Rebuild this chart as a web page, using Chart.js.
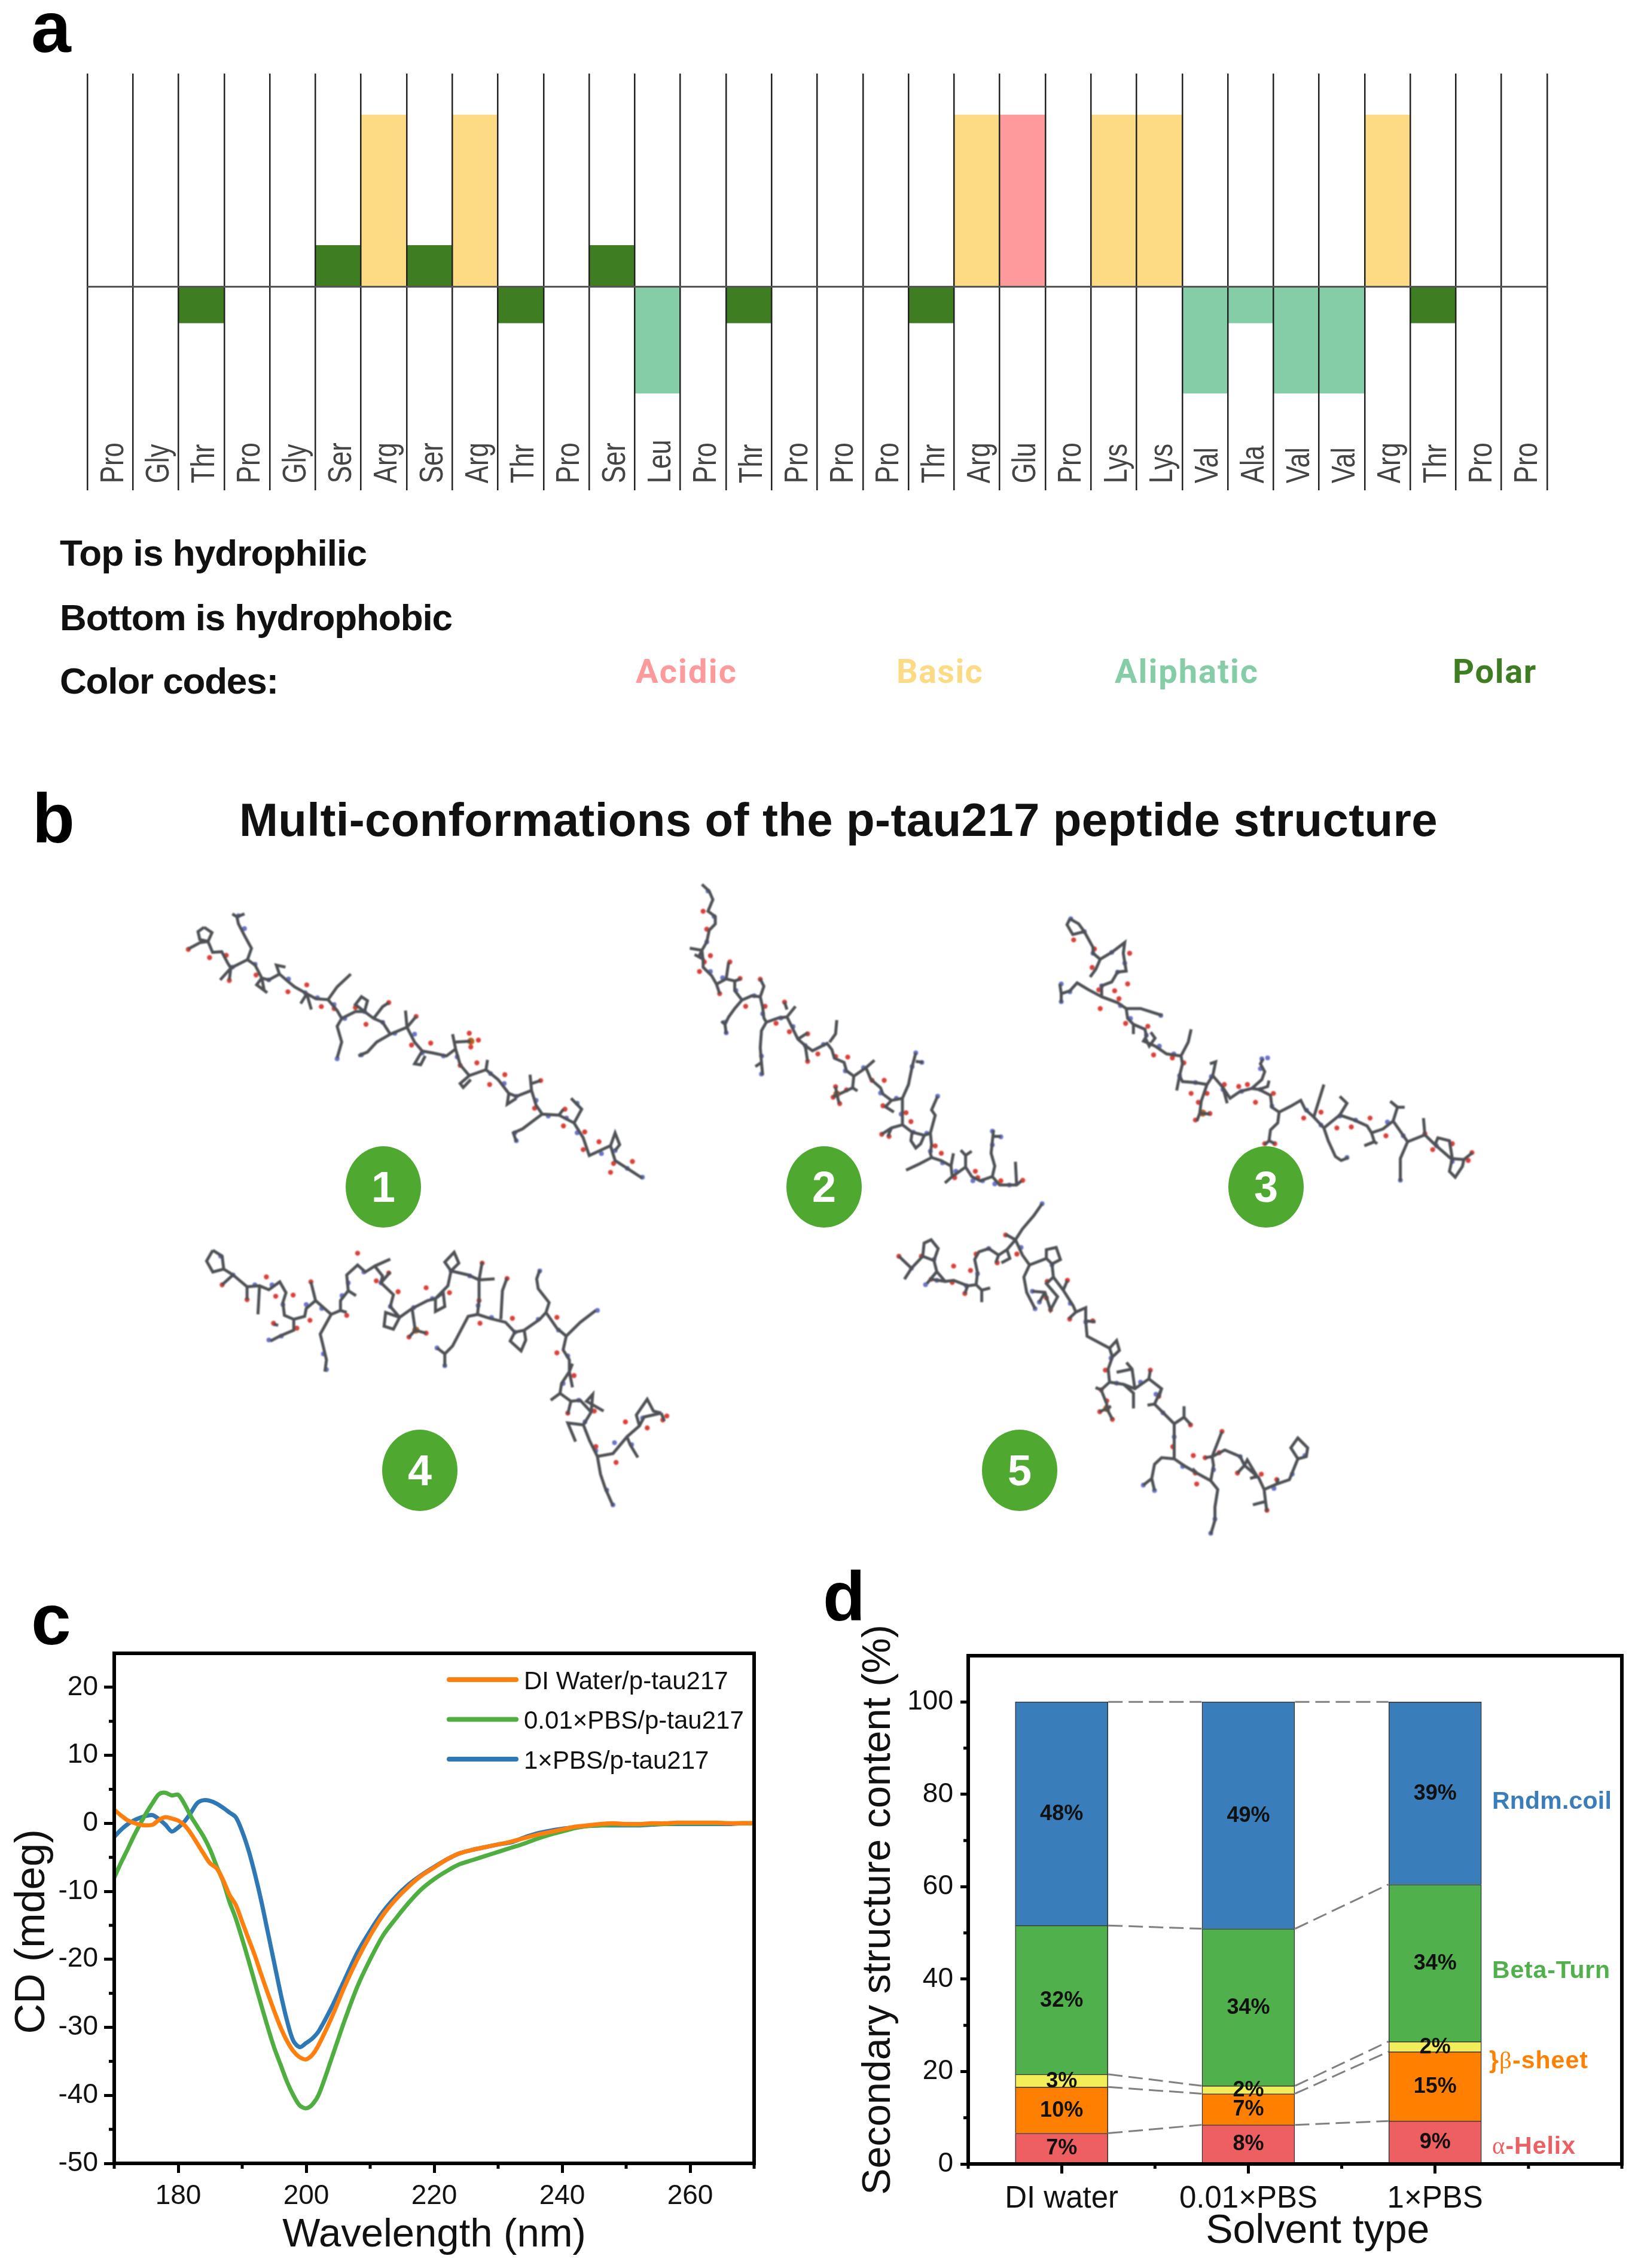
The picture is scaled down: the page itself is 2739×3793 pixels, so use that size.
<!DOCTYPE html>
<html>
<head>
<meta charset="utf-8">
<title>p-tau217 peptide</title>
<script src="https://cdn.jsdelivr.net/npm/chart.js@4"></script>
<style>
  html, body { margin: 0; background: #fff; }
  #page { position: relative; width: 2739px; height: 3793px; overflow: hidden; background: #fff; }
  canvas { position: absolute; }
  .t { position: absolute; line-height: 0; white-space: nowrap; font-family: "Liberation Sans", sans-serif; }
  .num { position: absolute; border-radius: 50%; background: #4fa82f; color: #fff; text-align: center;
         font: bold 72px "Liberation Sans", sans-serif; }
</style>
</head>
<body>
<div id="page">
  <canvas id="seqChart" width="2739" height="840" style="left:0;top:0"></canvas>
  <canvas id="molChart" width="2739" height="1200" style="left:0;top:1420px;filter:blur(0.9px)"></canvas>
  <canvas id="cdChart" width="1340" height="1153" style="left:0;top:2640px"></canvas>
  <canvas id="ssChart" width="1339" height="1153" style="left:1400px;top:2640px"></canvas>
</div>
<script>
// panel a
const residues = ["Pro","Gly","Thr","Pro","Gly","Ser","Arg","Ser","Arg","Thr","Pro","Ser","Leu","Pro","Thr","Pro",
  "Pro","Pro","Thr","Arg","Glu","Pro","Lys","Lys","Val","Ala","Val","Val","Arg","Thr","Pro","Pro"];
const hydropathy = [0,0,-0.88,0,0,1,4.16,1,4.16,-0.88,0,1,-2.58,0,-0.88,0,
  0,0,-0.88,4.16,4.16,0,4.16,4.16,-2.58,-0.88,-2.58,-2.58,4.16,-0.88,0,0];
const residueClass = { Arg:"Basic", Lys:"Basic", Glu:"Acidic", Ser:"Polar", Thr:"Polar", Leu:"Aliphatic", Val:"Aliphatic", Ala:"Aliphatic", Pro:"None", Gly:"None" };
const classColors = { Acidic:"#ff9a9c", Basic:"#fddb85", Aliphatic:"#84cda6", Polar:"#3e7d22", None:"#ffffff" };

// panel b, sticks in crop units, flat x,y lists
const mol1Sticks = [
  [72,108,52,130,58,170,85,180,98,135,72,108],
  [20,218,60,185,85,180,100,235,130,232,150,290,160,315,125,375],[160,315,155,375],
  [160,315,215,272,240,300,262,365,285,375,320,345,350,385,370,410,410,445,440,470,480,475,510,530,525,570,570,535,600,535,630,570,660,590,685,650,740,615,765,690,790,735,825,745,870,760,900,725,915,805,945,860,1000,830,1040,880,1075,950,1100,965,1150,935,1165,1010,1185,1055,1240,1060,1290,1100,1320,1175,1340,1265,1410,1215,1425,1290,1470,1335,1515,1380],
  [215,272,228,215,205,150,185,90,180,55],[165,40,180,55,205,40],
  [262,365,245,400,280,440],[262,365,270,430],[320,345,310,300,340,310],
  [410,445,390,495],[410,445,425,525],[480,475,510,410,555,345],[525,570,510,610,525,690,510,770],
  [600,535,570,500,590,460,610,480,600,535],[630,570,660,510,680,490],[685,650,640,690,610,740,580,760],
  [740,615,770,560],[740,615,735,530],[790,735,765,800,785,805,800,760],
  [900,725,890,650],[900,690,950,685],[945,860,915,900,925,920,950,880],[1000,830,1005,780],
  [1150,935,1145,855],[1150,900,1180,885],[1075,950,1070,1005,1100,975],
  [1185,1055,1150,1095,1120,1130,1090,1150,1100,1195],[1290,1100,1315,1030,1280,975],
  [1410,1215,1425,1150,1440,1210,1425,1240],[1240,1060,1255,1030]
];
const mol2Sticks = [
  [105,38,135,70,150,110,130,165,160,190,160,225,135,255,125,310,105,350,110,400,110,430,145,470,165,510,205,485,240,495,240,540,270,585,310,565,345,570,355,620,360,670,370,690,420,670,455,665,470,700,500,770,530,800,560,825,620,790,640,820,650,860,690,880,700,920,730,945,780,905,800,960,840,1000,850,1030,885,1060,930,1050,930,1120,930,1175,970,1210,1020,1225,1045,1215,1050,1270,1045,1310,1050,1330,1090,1345,1130,1370,1135,1420,1190,1375,1215,1420,1250,1440,1300,1420,1330,1460,1400,1460,1420,1440],
  [55,340,105,350,90,385],[75,370,115,395],[205,485,215,405],[165,510,178,555],[240,495,265,485],
  [270,585,240,625,215,665,200,700,205,745],[185,685,200,700],[345,570,360,520,345,485],
  [370,690,350,730,345,810,350,880,325,900],[350,880,355,940],[455,665,490,615],[455,630,445,595],
  [500,770,540,740],[530,800,540,875],[630,785,655,745,660,680],
  [730,945,725,1000,745,1015],[725,1000,670,1030],[655,995,660,1030,670,1075],[645,1045,660,1030],[780,905,815,870],
  [930,1050,955,985,970,900,985,835],[985,875,1015,880],[885,1060,860,1090,895,1115],[930,1175,885,1190,845,1220],[885,1190,870,1230],
  [970,1210,965,1250,985,1285,1005,1265,1020,1225],[1045,1215,1065,1130,1050,1105,1075,1040],[1050,1330,1000,1360,945,1390],
  [1130,1370,1140,1310],[1135,1420,1105,1450],[1190,1375,1190,1320,1170,1295],[1190,1320,1215,1300],
  [1300,1420,1310,1370,1295,1310,1305,1200],[1305,1230,1335,1230],[1400,1460,1395,1350]
];
const mol3Sticks = [
  [105,65,95,95,115,145,155,130,135,90,105,65],
  [155,130,185,210,185,240,210,270,250,235,295,185,290,240,300,330,270,335,250,385,215,405,215,460,270,490,300,520,305,570,325,600,365,625,370,660,360,685,400,710,440,750,490,760,495,800,485,860,495,890,540,895,580,905,600,860,635,920,660,975,695,940,735,925,760,930,800,960,805,1020,830,1045,870,1015,905,985,920,1030,950,1070,985,1125,1040,1060,1090,1085,1135,1115,1150,1150,1190,1130,1225,1090,1275,1195,1335,1160,1370,1210,1425,1280,1470,1285,1500,1250],
  [210,270,195,320,175,360],[215,460,170,425,130,390,105,430,75,445,70,395],[75,445,75,490],
  [300,520,350,520,425,555],[325,600,325,650],[365,665,380,710,400,670,385,640],[490,760,515,690,525,625],
  [485,860,475,935],[600,860,610,790,590,800],[580,905,560,990,555,1050,545,1090],[555,1050,590,1055],
  [735,925,770,880,780,840,765,800,775,775],[760,930,790,915,795,885],[635,920,650,1000],
  [830,1045,825,1100,800,1135,795,1190,780,1210],[795,1190,815,1205],[950,1070,985,905],
  [1040,1060,1065,1000,1040,965],[985,1125,1000,1190,1025,1270,1045,1290,1070,1275],
  [1150,1150,1160,1195,1125,1215],[1160,1195,1170,1205],[1225,1090,1240,1020,1215,990],[1240,1020,1265,1020],
  [1275,1195,1250,1280,1250,1395],[1335,1160,1330,1075],[1370,1210,1380,1175,1420,1190,1430,1280],
  [1430,1280,1420,1345,1440,1375,1465,1320,1470,1285]
];
const mol4Sticks = [
  [60,35,40,90,60,145,95,130,90,65,60,35],
  [95,130,125,160,170,220,210,215,240,235,275,195,295,250,285,300,290,365,320,385,355,370,360,330,390,290,440,360,470,340,470,290,495,240,490,160,525,110,550,145,580,115,605,165,600,200,640,260,630,320,660,375,700,330,750,290,775,280,815,215,825,140,880,160,915,185,915,290,910,360,950,380,1000,400,1030,450,1060,440,1110,385,1130,350,1165,430,1195,470,1185,540,1205,590,1205,650,1180,710,1175,760,1210,800,1240,795,1275,855,1250,920,1270,1000,1295,1080,1345,1065,1390,980,1430,925,1445,880,1500,860],
  [125,160,90,210],[170,220,170,285],[210,215,205,360],[390,290,375,195],[440,360,405,460,425,590,420,650],
  [320,385,320,440,275,470,245,495],[255,410,270,415],[470,340,490,350],[495,240,520,265],
  [580,115,630,80],[600,200,630,145],[660,375,615,350,610,420,640,435,660,375],
  [700,330,710,440,690,475],[710,440,745,455],[775,280,775,345,805,320,800,250,775,280],
  [825,140,805,95,835,45,850,100,825,140],[915,185,925,95],[915,185,965,180],
  [910,360,880,370,850,460,830,520,805,560,780,530],[805,560,805,625],[985,385,990,240,1005,175],
  [1030,450,1015,495,1050,545,1065,490,1060,440],[1130,350,1140,300,1105,230,1100,180,1110,135],
  [1195,470,1240,400,1290,340],[1205,650,1215,610],[1205,650,1215,730],[1175,760,1145,795],[1210,800,1200,865],
  [1275,855,1280,765,1260,800,1315,850],[1250,920,1200,910,1225,1005],[1295,1080,1305,1170,1320,1240,1345,1330],
  [1390,980,1400,1020,1425,1085],[1430,925,1420,870,1455,790,1475,850,1500,860],[1500,860,1510,900]
];
const mol5Sticks = [
  [50,275,95,330,135,275,175,295,185,345,215,390,245,385,295,410,325,405,330,350,320,290,335,255,370,240,405,270,435,245,465,200,490,270,515,315,575,285,595,310,600,370,635,430,670,500,680,530,715,510,715,570,720,640,800,695,810,735,795,790,800,850,850,860,890,880,940,835,985,880,960,950,1030,1040,1030,1130,1030,1200,1070,1235,1110,1265,1160,1300,1170,1230,1165,1190,1210,1160,1265,1190,1280,1230,1330,1285,1350,1340,1395,1315,1440,1295,1470,1200],
  [95,330,70,380],[135,275,140,215,165,200,190,240,175,295],[185,345,150,400],[215,390,165,380],
  [295,410,285,445],[325,405,345,430,345,485],[345,430,375,420],[405,270,395,305],[435,245,445,285,415,305],
  [465,200,430,175],[465,200,490,150,530,90,560,35],[515,315,495,370,505,440,535,515],
  [575,285,575,245,610,235,625,290,595,310],[635,430,650,385],[600,370,575,400,615,460,590,520,570,440,525,435],[550,485,570,440],
  [680,530,655,560],[715,570,750,575],[800,695,825,660,835,705,810,735],[800,850,770,885,750,875],[770,885,790,950,790,970],
  [765,985,790,970,810,1020],[790,970,805,960],[850,860,885,900,885,970],[890,880,880,790,860,760],[880,790,825,805],[940,835,945,795],
  [985,880,975,920],[960,950,935,955],[1030,1040,1065,1010,1065,960],[1065,1010,1090,1045],
  [1030,1200,985,1195,960,1225,950,1290,920,1320],[950,1290,960,1345],[1110,1265,1095,1245],
  [1160,1300,1185,1340,1175,1420,1175,1480,1160,1545],[1165,1190,1200,1075],[1165,1190,1140,1195],
  [1280,1230,1290,1205,1325,1280,1300,1290],[1280,1230,1255,1265],[1350,1340,1355,1395,1310,1410],[1355,1395,1360,1440],[1395,1315,1400,1290],
  [1470,1200,1445,1150,1470,1105,1505,1150,1500,1190,1470,1200]
];
const mol1Oxygen = [20,220,90,262,145,250,155,378,243,350,348,435,410,400,458,510,500,520,570,515,605,600,680,490,770,560,755,705,818,695,915,808,970,795,1062,855,1012,905,1180,885,1160,1025,1260,1030,1255,1115,1325,1145,1320,1235,1372,1195,1482,1295,1410,1350,1420,1305,975,680,945,645,950,715];
const mol1Nitrogen = [185,50,205,115,165,310,240,295,285,375,350,370,405,440,445,465,500,500,535,570,600,535,660,590,700,645,765,650,590,755,510,775,790,745,860,760,905,765,1015,850,1060,900,1100,965,1165,985,1205,1065,1265,1075,1300,1000,1095,1150,1100,1190,1300,1150,1380,1255,1425,1240,1465,1330,1515,1375];
const mol2Oxygen = [110,165,125,250,140,375,115,405,95,450,178,555,220,405,262,483,285,615,345,487,365,615,410,695,445,595,465,735,540,745,582,840,540,875,655,852,705,855,805,965,855,965,850,1085,945,1118,965,1160,845,1220,875,1230,1065,1275,1090,1310,1230,1395,1240,1425,1145,1425,1335,1440,1425,1438,655,995,645,1045,672,1075,700,1010];
const mol2Nitrogen = [130,70,155,190,125,310,140,450,190,480,245,540,320,565,200,690,205,740,350,850,350,935,355,650,430,670,480,710,530,800,605,795,695,920,770,905,840,1025,905,1050,925,1125,975,1210,1030,1215,1045,1300,1095,1355,1150,1395,1220,1440,1260,1440,1310,1455,1370,1460,985,835,1010,880,970,900,1075,1040,1300,1205,1335,1232,1300,1270];
const mol3Oxygen = [118,172,190,218,182,312,312,240,305,395,260,430,205,425,210,520,275,470,298,595,375,610,395,755,460,770,500,795,525,950,580,950,640,905,690,915,720,905,748,995,810,950,915,1075,975,1045,1030,1125,1080,1120,1145,1075,1200,1165,1335,1155,1362,1235,1430,1205,1498,1250,1485,1290,780,1205,815,1205,550,995,540,1085,590,1052];
const mol3Nitrogen = [108,65,155,130,185,240,250,235,295,290,270,335,215,405,75,395,75,485,105,435,280,505,420,555,315,570,370,655,415,710,465,750,485,860,540,895,595,865,635,930,700,940,765,930,770,775,790,770,765,825,805,1015,925,1035,975,1110,1040,1065,1095,1085,1205,1095,1260,1165,1375,1215,1430,1295,1065,1275,1250,1390];
const mol4Oxygen = [90,210,170,285,232,170,262,268,318,262,255,405,330,430,372,390,375,195,490,365,525,50,585,190,625,150,655,245,745,225,820,250,925,100,915,290,918,405,1005,178,1022,380,1165,375,1165,555,1220,670,1200,860,1285,850,1290,1030,1355,1110,1385,905,1455,935,1518,875,1505,895,690,475,745,455];
const mol4Nitrogen = [85,65,125,160,195,210,250,210,285,310,360,310,410,330,475,265,495,200,545,145,600,200,630,320,705,325,765,280,825,140,885,165,912,315,955,375,1030,450,1105,385,1170,440,1200,570,1185,710,1235,795,1255,905,1290,1050,1350,1010,1440,885,1110,140,1295,340,240,490,280,470,805,620,780,530,415,560,425,640,1325,1250,1345,1325,1405,1020];
const mol5Oxygen = [50,275,130,275,165,380,245,320,240,395,285,445,305,340,325,265,400,305,470,265,430,178,578,390,590,520,575,465,650,385,658,562,740,570,785,795,770,885,790,935,765,985,810,1020,945,795,975,915,1088,1045,1025,1145,1098,1185,1105,1265,1110,1315,1140,1195,1200,1075,1190,1172,1255,1265,1340,1270,1395,1295,1360,1435];
const mol5Nitrogen = [560,35,485,235,535,515,525,435,550,485,595,315,660,490,715,575,805,740,825,855,910,850,965,905,990,990,1030,1100,1060,1235,1170,1250,1265,1190,1320,1280,1385,1335,1450,1270,1495,1185,330,355,370,240,290,410,175,290,95,330,145,405,185,385,920,1320,960,1345,1175,1475,1160,1540];
const mol1Phosphorus = [950,685];
const mol2Phosphorus = [660,1030];
const mol3Phosphorus = [565,1050];
const mol4Phosphorus = [712,440];
const mol5Phosphorus = [790,970];
const molFrames = [[300,1510,1.96,3],[1130,1460,2.45,2.8],[1740,1510,2.063,3],[320,2080,1.912,3],[1480,2000,2.119,2.703]];

// panel c
const wavelengths = [170,171,172,173,174,175,176,177,178,179,180,181,182,183,184,185,186,187,188,189,190,191,192,193,194,195,196,197,198,199,200,201,202,
  204,206,208,210,212,214,216,218,220,222,224,226,228,230,232,234,236,238,240,242,244,246,248,250,252,254,256,258,260,262,264,266,268,270];
const cdWater = [2,1.2,.5,.1,-.2,-.3,-.2,.5,.9,.7,.4,-.3,-1.5,-3,-4.5,-5.9,-6.6,-8.3,-10.5,-12,-14.5,-17,-19.5,-22.3,-25,-27.6,-30,-32,-33.5,-34.4,-34.7,-34,-32.5,
  -28.5,-24,-20,-16.5,-13.5,-11.2,-9.3,-7.7,-6.5,-5.3,-4.4,-3.9,-3.5,-3.1,-2.7,-2.2,-1.7,-1.3,-.9,-.5,-.3,-.1,0,-.1,-.1,0,0,.1,.1,.1,.1,0,0,0];
const cdPbs001 = [-8,-5.9,-4,-2,-.2,1.5,3,4.3,4.5,4.1,4.2,2.8,1,-.5,-2,-3.9,-6.3,-8.5,-11.5,-14,-17,-20.2,-23.5,-26.8,-30,-33,-35.5,-38,-40,-41.5,-41.9,-41.3,-39.8,
  -34.5,-29,-24,-20,-16.5,-14,-11.7,-9.7,-8.2,-7,-6,-5.4,-4.8,-4.2,-3.6,-3,-2.3,-1.7,-1.2,-.7,-.4,-.3,-.2,-.2,-.2,-.1,-.1,0,0,0,0,0,0,0];
const cdPbs1 = [-2,-1,-.2,.4,.8,1.1,1.2,.6,-.2,-1.2,-.6,.3,1.6,3,3.4,3.3,2.9,2.3,1.6,.9,-1.2,-4,-7.5,-11.5,-16,-20.5,-25,-29,-32,-32.9,-32.3,-31.6,-30.5,
  -27,-23,-19,-15.8,-13,-10.8,-9,-7.6,-6.4,-5.3,-4.4,-3.9,-3.5,-3.1,-2.8,-2.1,-1.5,-1.1,-.8,-.6,-.4,-.3,-.3,-.3,-.3,-.2,-.1,-.1,-.1,-.1,-.1,-.1,0,0];

// panel d
const solvents = ["DI water","0.01×PBS","1×PBS"];
const helix = [6.65,8.46,9.3];
const antiparallel = [10,6.75,15];
const parallel = [2.76,1.7,2.2];
const betaTurn = [32.2,34,34];
const randomCoil = [48.4,49.1,39.5];
const helixLabels = ["7%","8%","9%"];
const antiparallelLabels = ["10%","7%","15%"];
const parallelLabels = ["3%","2%","2%"];
const betaTurnLabels = ["32%","34%","34%"];
const randomCoilLabels = ["48%","49%","39%"];

Chart.defaults.animation = false;
Chart.defaults.responsive = false;
Chart.defaults.font.family = '"Liberation Sans", sans-serif';
Chart.defaults.color = "#111";
Chart.defaults.plugins.legend.display = false;
Chart.defaults.plugins.tooltip.enabled = false;

const page = document.getElementById("page");

function addText(html, x, baseline, size, weight, color, targetWidth, family) {
  const el = document.createElement("span");
  el.className = "t";
  el.innerHTML = html;
  el.style.left = x + "px";
  el.style.top = baseline - 0.3465 * size + "px";
  el.style.fontSize = size + "px";
  el.style.fontWeight = weight;
  el.style.color = color;
  if (family) el.style.fontFamily = family;
  page.appendChild(el);
  if (targetWidth) {
    const extra = targetWidth - el.getBoundingClientRect().width;
    el.style.letterSpacing = extra / el.textContent.length + "px";
  }
}

// Residue names sit inside the plot, so the tick labels cannot do it
const residueLabels = {
  id: "residueLabels",
  afterDatasetsDraw(chart) {
    const { ctx, scales } = chart;
    ctx.save();
    ctx.fillStyle = "#444";
    ctx.font = '56px "Liberation Sans", sans-serif';
    ctx.textBaseline = "middle";
    residues.forEach((name, i) => {
      ctx.save();
      ctx.translate(scales.x.getPixelForValue(i) + 6, scales.y.getPixelForValue(-4.76));
      ctx.rotate(-Math.PI / 2);
      ctx.scale(0.78, 1);
      ctx.fillText(name, 0, 0);
      ctx.restore();
    });
    ctx.restore();
  },
};

const plotFrame = {
  id: "plotFrame",
  afterDraw(chart, args, opts) {
    const { ctx, chartArea: a, scales } = chart;
    ctx.save();
    ctx.strokeStyle = "#000";
    ctx.lineWidth = 5;
    opts.minorX.forEach((v) => {
      const x = scales.x.getPixelForValue(v);
      ctx.beginPath();
      ctx.moveTo(x, a.bottom);
      ctx.lineTo(x, a.bottom + opts.minorLength);
      ctx.stroke();
    });
    opts.minorY.forEach((v) => {
      const y = scales.y.getPixelForValue(v);
      ctx.beginPath();
      ctx.moveTo(a.left, y);
      ctx.lineTo(a.left - opts.minorLength, y);
      ctx.stroke();
    });
    ctx.lineWidth = 6;
    ctx.strokeRect(a.left, a.top, a.width, a.height);
    ctx.restore();
  },
};

const cdLegend = {
  id: "cdLegend",
  afterDraw(chart) {
    const { ctx } = chart;
    ctx.save();
    ctx.font = '42px "Liberation Sans", sans-serif';
    ctx.textBaseline = "middle";
    chart.data.datasets.forEach((ds, i) => {
      const y = 169 + i * 66.5;
      ctx.strokeStyle = ds.borderColor;
      ctx.lineWidth = 8;
      ctx.lineCap = "round";
      ctx.beginPath();
      ctx.moveTo(751, y);
      ctx.lineTo(863, y);
      ctx.stroke();
      ctx.fillStyle = "#111";
      ctx.fillText(ds.label, 876, y + 4);
    });
    ctx.restore();
  },
};

const segmentLabels = {
  id: "segmentLabels",
  afterDatasetsDraw(chart) {
    const { ctx } = chart;
    ctx.save();
    ctx.font = 'bold 36px "Liberation Sans", sans-serif';
    ctx.fillStyle = "#111";
    ctx.textAlign = "center";
    ctx.textBaseline = "middle";
    chart.data.datasets.forEach((ds, d) => {
      if (!ds.segmentText) return;
      chart.getDatasetMeta(d).data.forEach((bar, i) => {
        const c = bar.getCenterPoint();
        ctx.fillText(ds.segmentText[i], c.x, c.y + 1);
      });
    });
    ctx.restore();
  },
};

// ---- a ----
new Chart(document.getElementById("seqChart"), {
  type: "bar",
  plugins: [residueLabels],
  data: {
    labels: residues,
    datasets: [{
      data: hydropathy,
      backgroundColor: residues.map((r) => classColors[residueClass[r]]),
      categoryPercentage: 1,
      barPercentage: 1,
    }],
  },
  options: {
    layout: { padding: { top: 123, right: 152 } },
    scales: {
      x: {
        offset: true,
        ticks: { display: false },
        border: { display: false },
        grid: { offset: true, color: "#222", lineWidth: 2.5, drawTicks: false, z: 1 },
        afterFit(s) { s.height = 20; },
      },
      y: {
        min: -4.93,
        max: 5.16,
        ticks: { display: false },
        border: { display: false },
        grid: { color: "#555", lineWidth: 3, drawTicks: false, z: 1 },
        afterBuildTicks(s) { s.ticks = [{ value: 0 }]; },
        afterFit(s) { s.width = 146; },
      },
    },
  },
});

// ---- b ----
const molColor = "#4d5054";
function moleculePoints(flat, frame) {
  const pts = [];
  for (let i = 0; i < flat.length; i += 2) {
    pts.push({ x: frame[0] + flat[i] / frame[2], y: frame[1] + flat[i + 1] / frame[3] });
  }
  return pts;
}
function stickPoints(sticks, frame) {
  const pts = [];
  sticks.forEach((s) => {
    pts.push(...moleculePoints(s, frame), { x: NaN, y: NaN });
  });
  return pts;
}
const allSticks = [mol1Sticks, mol2Sticks, mol3Sticks, mol4Sticks, mol5Sticks];
const allOxygen = [mol1Oxygen, mol2Oxygen, mol3Oxygen, mol4Oxygen, mol5Oxygen];
const allNitrogen = [mol1Nitrogen, mol2Nitrogen, mol3Nitrogen, mol4Nitrogen, mol5Nitrogen];
const allPhosphorus = [mol1Phosphorus, mol2Phosphorus, mol3Phosphorus, mol4Phosphorus, mol5Phosphorus];
const atomSet = (lists, color, r) => ({
  data: lists.flatMap((l, i) => moleculePoints(l, molFrames[i])),
  showLine: false,
  pointRadius: r,
  pointBorderWidth: 0,
  pointBackgroundColor: color,
});
new Chart(document.getElementById("molChart"), {
  type: "scatter",
  data: {
    datasets: [
      ...allSticks.map((s, i) => ({
        data: stickPoints(s, molFrames[i]),
        showLine: true,
        spanGaps: false,
        borderColor: molColor,
        borderWidth: 5,
        pointRadius: 0,
      })),
      atomSet(allOxygen, "#d9403a", 4.2),
      atomSet(allNitrogen, "#6a74c4", 4),
      atomSet(allPhosphorus, "#b8621b", 6),
    ],
  },
  options: {
    scales: {
      x: { display: false, min: 0, max: 2739 },
      y: { display: false, min: 1420, max: 2620, reverse: true },
    },
  },
});

// ---- c ----
const seriesPoints = (vals) => vals.map((v, i) => ({ x: wavelengths[i], y: v }));
const cdSet = (label, vals, color) => ({
  label,
  data: seriesPoints(vals),
  borderColor: color,
  borderWidth: 7,
  pointRadius: 0,
  tension: 0.3,
});
new Chart(document.getElementById("cdChart"), {
  type: "line",
  plugins: [plotFrame, cdLegend],
  data: {
    datasets: [
      cdSet("DI Water/p-tau217", cdWater, "#ff7f0e"),
      cdSet("0.01×PBS/p-tau217", cdPbs001, "#4eae3f"),
      cdSet("1×PBS/p-tau217", cdPbs1, "#2e78b6"),
    ],
  },
  options: {
    layout: { padding: { top: 125, right: 79 } },
    plugins: {
      plotFrame: { minorX: [170,190,210,230,250,270], minorY: [-45,-35,-25,-15,-5,5,15], minorLength: 9 },
    },
    scales: {
      x: {
        type: "linear",
        min: 170,
        max: 270,
        ticks: { stepSize: 10, font: { size: 46 }, padding: 12, maxRotation: 0, autoSkip: false, callback: (v) => v },
        grid: { drawOnChartArea: false, color: "#000", lineWidth: 5, tickLength: 16 },
        border: { display: false },
        title: { display: true, text: "Wavelength (nm)", color: "#111", font: { size: 67 }, padding: { bottom: 14 } },
        afterBuildTicks(s) { s.ticks = s.ticks.filter((t) => t.value % 20 === 0); },
        afterFit(s) { s.height = 175; },
      },
      y: {
        min: -50,
        max: 25,
        ticks: { stepSize: 10, font: { size: 46 }, padding: 10, callback: (v) => v },
        grid: { drawOnChartArea: false, color: "#000", lineWidth: 5, tickLength: 17 },
        border: { display: false },
        title: { display: true, text: "CD (mdeg)\u00a0\u00a0\u00a0\u00a0", color: "#111", font: { size: 70 }, padding: { top: 13 } },
        afterBuildTicks(s) { s.ticks = s.ticks.filter((t) => t.value % 10 === 0); },
        afterFit(s) { s.width = 191; },
      },
    },
  },
});

// ---- d ----
const barPoints = (vals) => vals.map((v, i) => ({ x: i + 1, y: v }));
const barSet = (vals, color, text) => ({
  data: barPoints(vals),
  backgroundColor: color,
  borderColor: "#333",
  borderWidth: 1.5,
  barThickness: 155,
  segmentText: text,
});
const stackOrder = [helix, antiparallel, parallel, betaTurn, randomCoil];
const boundarySets = stackOrder.map((_, level) => {
  const tops = solvents.map((s, i) => stackOrder.slice(0, level + 1).reduce((sum, arr) => sum + arr[i], 0));
  return {
    type: "line",
    yAxisID: "yLine",
    data: [
      { x: 1.25, y: tops[0] }, { x: 1.75, y: tops[1] }, { x: 2, y: NaN },
      { x: 2.25, y: tops[1] }, { x: 2.75, y: tops[2] },
    ],
    borderColor: "#808080",
    borderWidth: 3,
    borderDash: [24, 10],
    pointRadius: 0,
    spanGaps: false,
  };
});
new Chart(document.getElementById("ssChart"), {
  type: "bar",
  plugins: [plotFrame, segmentLabels],
  data: {
    datasets: [
      barSet(helix, "#ee5f61", helixLabels),
      barSet(antiparallel, "#ff8000", antiparallelLabels),
      barSet(parallel, "#f2ee5a", parallelLabels),
      barSet(betaTurn, "#4fb04c", betaTurnLabels),
      barSet(randomCoil, "#3a7dbb", randomCoilLabels),
      ...boundarySets,
    ],
  },
  options: {
    layout: { padding: { top: 129, right: 27 } },
    plugins: {
      plotFrame: { minorX: [0.5,1.5,2.5,3.5,4], minorY: [10,30,50,70,90], minorLength: 8 },
    },
    scales: {
      x: {
        type: "linear",
        stacked: true,
        offset: false,
        min: 0.5,
        max: 4,
        ticks: { stepSize: 1, font: { size: 51 }, padding: 12, maxRotation: 0, autoSkip: false, callback: (v) => solvents[v - 1] },
        grid: { offset: false, drawOnChartArea: false, color: "#000", lineWidth: 5, tickLength: 16 },
        border: { display: false },
        title: { display: true, text: "\u00a0\u00a0\u00a0\u00a0Solvent type", color: "#111", font: { size: 68 }, padding: { bottom: 20 } },
        afterBuildTicks(s) { s.ticks = s.ticks.filter((t) => t.value >= 1 && t.value <= 3 && Number.isInteger(t.value)); },
        afterFit(s) { s.height = 174; },
      },
      y: {
        stacked: true,
        min: 0,
        max: 110,
        ticks: { stepSize: 20, font: { size: 46 }, padding: 12, callback: (v) => v },
        grid: { drawOnChartArea: false, color: "#000", lineWidth: 5, tickLength: 13 },
        border: { display: false },
        title: { display: true, text: "Secondary structure content (%)", color: "#111", font: { size: 66.5 }, padding: { top: 30 } },
        afterBuildTicks(s) { s.ticks = s.ticks.filter((t) => t.value <= 100); },
        afterFit(s) { s.width = 219; },
      },
      yLine: { display: false, min: 0, max: 110 },
    },
  },
});

// ---- text around the charts ----
const numbered = [["1",641,1985],["2",1378,1985],["3",2117,1985],["4",702,2459],["5",1705,2459]];
numbered.forEach(([n, cx, cy]) => {
  const el = document.createElement("div");
  el.className = "num";
  el.textContent = n;
  el.style.cssText = `left:${cx - 63}px;top:${cy - 68}px;width:126px;height:136px;line-height:136px`;
  page.appendChild(el);
});

addText("a", 52, 87, 120, "bold", "#000");
addText("b", 54, 1409, 116, "bold", "#000");
addText("c", 52, 2750, 120, "bold", "#000");
addText("d", 1376, 2710, 116, "bold", "#000");

addText("Top is hydrophilic", 100, 946, 62, "bold", "#111", 513);
addText("Bottom is hydrophobic", 100, 1054, 62, "bold", "#111", 656);
addText("Color codes:", 100, 1160, 62, "bold", "#111", 365);
addText("Acidic", 1063, 1142, 56, 700, classColors.Acidic, 170, "Roboto");
addText("Basic", 1499, 1142, 56, 700, classColors.Basic, 145, "Roboto");
addText("Aliphatic", 1864, 1142, 56, 700, classColors.Aliphatic, 241, "Roboto");
addText("Polar", 2429, 1142, 56, 700, classColors.Polar, 141, "Roboto");

addText("Multi-conformations of the p-tau217 peptide structure", 400, 1398, 78, "bold", "#111", 2004);

addText("Rndm.coil", 2495, 3025, 41, "bold", "#3a7dbb", 200);
addText("Beta-Turn", 2495, 3308, 41, "bold", "#4fb04c", 198);
addText('}<span style="font-family:\'Liberation Serif\';font-weight:normal">β</span>-sheet', 2490, 3459, 41, "bold", "#ff8000", 166);
addText('<span style="font-family:\'Liberation Serif\';font-weight:normal">α</span>-Helix', 2495, 3602, 41, "bold", "#ee5f61", 140);
</script>
</body>
</html>
